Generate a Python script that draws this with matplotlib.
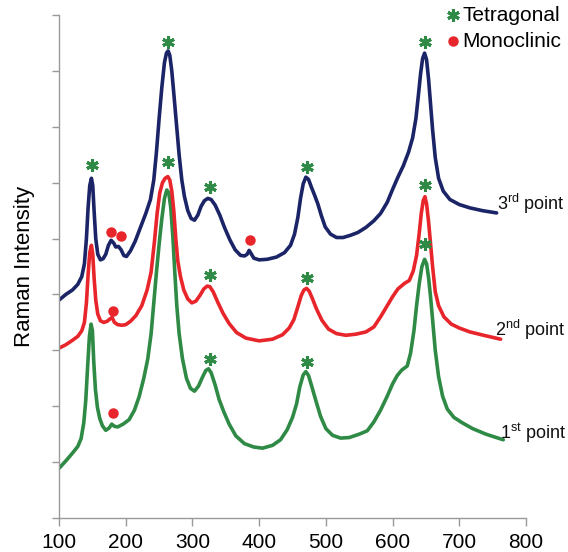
import numpy as np
import matplotlib
matplotlib.use('Agg')
import matplotlib.pyplot as plt

plt.rcParams['font.family'] = ['Liberation Sans', 'DejaVu Sans']
plt.rcParams['mathtext.fontset'] = 'custom'
plt.rcParams['mathtext.rm'] = 'Liberation Sans'

# spectra (vertical offset already included)
x_3rd = [100, 110, 120, 128, 134, 138, 141, 143.5, 146, 148.5, 150.5, 152.5, 155, 158, 162, 166,
         170, 174, 178, 182, 185, 189, 193, 197, 201, 207, 214, 222, 230, 237, 242, 246, 250,
         254, 258, 261, 263.5, 266, 269, 272, 276, 280, 284, 288, 293, 298, 303, 308, 313, 318,
         323, 328, 334, 341, 348, 356, 364, 372, 378, 382, 385, 388, 392, 400, 412, 426, 438,
         447, 453, 458, 462, 466, 470, 474, 478, 483, 488, 493, 499, 507, 516, 526, 537, 548,
         560, 572, 582, 592, 600, 608, 616, 624, 630, 635, 639, 642, 645, 648, 651, 654, 657,
         660, 664, 669, 676, 686, 700, 716, 735, 756]
y_3rd = [3.90, 4.0, 4.08, 4.18, 4.32, 4.55, 5.0, 5.55, 5.95, 6.08, 5.95, 5.5, 5.0, 4.72, 4.62,
         4.64, 4.72, 4.88, 4.97, 4.92, 4.85, 4.86, 4.80, 4.70, 4.68, 4.78, 4.95, 5.2, 5.45, 5.7,
         6.05, 6.55, 7.15, 7.7, 8.15, 8.32, 8.36, 8.28, 8.0, 7.6, 7.05, 6.5, 6.05, 5.75, 5.5,
         5.36, 5.33, 5.42, 5.58, 5.68, 5.72, 5.70, 5.60, 5.42, 5.20, 4.98, 4.80, 4.70, 4.69, 4.72,
         4.79, 4.73, 4.65, 4.62, 4.63, 4.67, 4.75, 4.88, 5.08, 5.38, 5.72, 5.98, 6.10, 6.06, 5.93,
         5.78, 5.62, 5.42, 5.21, 5.08, 5.02, 5.02, 5.06, 5.11, 5.2, 5.32, 5.45, 5.65, 5.88, 6.1,
         6.3, 6.55, 6.8, 7.15, 7.6, 7.95, 8.22, 8.32, 8.2, 7.85, 7.4, 6.95, 6.45, 6.08, 5.85,
         5.70, 5.61, 5.55, 5.50, 5.46]

x_2nd = [100, 110, 120, 128, 134, 138, 141, 143.5, 146, 148.5, 150.5, 152.5, 155, 158, 162, 167,
         172, 176, 179.5, 183, 188, 194, 200, 207, 215, 224, 232, 238, 243, 247, 251, 255, 259,
         263, 266, 269, 272, 275, 278, 282, 287, 293, 299, 305, 311, 317, 322, 326, 331, 338,
         346, 355, 366, 380, 400, 420, 435, 445, 452, 458, 463, 467, 471, 475, 480, 486, 494,
         504, 516, 530, 545, 560, 572, 582, 592, 600, 608, 618, 625, 631, 636, 640, 643, 646,
         648.5, 651, 654, 657, 660, 664, 669, 677, 688, 700, 716, 740, 762]
y_2nd = [3.04, 3.1, 3.18, 3.25, 3.35, 3.5, 3.85, 4.35, 4.75, 4.88, 4.72, 4.3, 3.9, 3.65, 3.53,
         3.50, 3.52, 3.56, 3.59, 3.50, 3.46, 3.45, 3.46, 3.52, 3.62, 3.80, 4.08, 4.4, 4.95, 5.45,
         5.82, 6.0, 6.08, 6.11, 6.05, 5.85, 5.5, 5.0, 4.6, 4.32, 4.08, 3.92, 3.85, 3.88, 3.98,
         4.1, 4.15, 4.14, 4.05, 3.86, 3.66, 3.48, 3.32, 3.22, 3.17, 3.2, 3.28, 3.4, 3.55, 3.78,
         3.98, 4.08, 4.11, 4.06, 3.92, 3.74, 3.54, 3.38, 3.30, 3.27, 3.29, 3.33, 3.42, 3.6, 3.8,
         3.96, 4.1, 4.2, 4.25, 4.42, 4.7, 5.1, 5.45, 5.68, 5.75, 5.62, 5.3, 4.9, 4.5, 4.05, 3.8,
         3.6, 3.47, 3.40, 3.33, 3.26, 3.20]

x_1st = [100, 110, 120, 128, 133, 137, 140, 143, 145.5, 148, 150, 152, 154.5, 157.5, 161, 165,
         170, 175, 179, 183, 188, 196, 205, 213, 220, 227, 233, 238, 242, 246, 250, 254, 258,
         261.5, 264.5, 267.5, 270.5, 273.5, 276.5, 280, 285, 291, 297, 303, 309, 315, 320, 324,
         328, 334, 340, 347, 355, 365, 378, 392, 405, 420, 432, 442, 450, 456, 461, 466, 470,
         474, 479, 485, 492, 500, 510, 522, 535, 550, 562, 572, 582, 592, 600, 607, 614, 622,
         627, 632, 636, 640, 644, 648, 651, 654, 657, 660, 664, 669, 675, 682, 692, 705, 720,
         740, 766]
y_1st = [0.89, 1.02, 1.16, 1.28, 1.42, 1.7, 2.1, 2.75, 3.25, 3.47, 3.35, 2.8, 2.3, 1.98, 1.78,
         1.65, 1.57, 1.61, 1.68, 1.64, 1.63, 1.68, 1.76, 1.93, 2.17, 2.5, 2.85, 3.3, 3.85, 4.4,
         4.9, 5.35, 5.72, 5.87, 5.82, 5.55, 5.05, 4.4, 3.8, 3.3, 2.85, 2.5, 2.32, 2.27, 2.36,
         2.52, 2.64, 2.67, 2.6, 2.38, 2.12, 1.9, 1.68, 1.47, 1.33, 1.27, 1.25, 1.30, 1.40, 1.58,
         1.8, 2.04, 2.35, 2.56, 2.62, 2.55, 2.35, 2.1, 1.82, 1.6, 1.48, 1.43, 1.44, 1.50, 1.56,
         1.72, 1.93, 2.18, 2.4, 2.55, 2.65, 2.72, 2.95, 3.35, 3.8, 4.2, 4.5, 4.63, 4.55, 4.3,
         3.95, 3.55, 3.0, 2.53, 2.18, 1.95, 1.8, 1.7, 1.6, 1.5, 1.40]

# peak markers
tet_x = [149.5, 263.5, 326.5, 472, 649, 263.5, 326.5, 472, 649, 326.5, 472, 649]
tet_y = [6.31, 8.52, 5.93, 6.28, 8.52, 6.37, 4.35, 4.29, 5.96, 2.84, 2.80, 4.90]
mono_x = [178, 193, 386.5, 181, 181]
mono_y = [5.12, 5.04, 4.97, 3.70, 1.88]

series_labels = ['1$^{\\rm st}$ point', '2$^{\\rm nd}$ point', '3$^{\\rm rd}$ point']
label_x = [761, 754, 757]
label_y = [1.52, 3.36, 5.62]

navy = '#1b2466'
red = '#e8252b'
green = '#2e8a45'
star = (6, 2, 0)

fig = plt.figure(figsize=(5.68, 5.52), dpi=100)
ax = fig.add_axes([0.104, 0.0616, 0.822, 0.911])

ax.plot(x_1st, y_1st, color=green, lw=2.6, solid_joinstyle='round', solid_capstyle='round')
ax.plot(x_2nd, y_2nd, color=red, lw=2.6, solid_joinstyle='round', solid_capstyle='round')
ax.plot(x_3rd, y_3rd, color=navy, lw=2.6, solid_joinstyle='round', solid_capstyle='round')

ax.plot(tet_x, tet_y, ls='none', marker=star, ms=9, mew=2.2, color=green)
ax.plot(mono_x, mono_y, ls='none', marker='o', ms=6.5, color=red, mec=red)

for lab, lx, ly in zip(series_labels, label_x, label_y):
    ax.text(lx, ly, lab, fontsize=13, ha='left', va='center', color='#111111', clip_on=False)

# legend drawn by hand in axes coords
ax.plot([0.844], [1.0], transform=ax.transAxes, marker=star, ms=9, mew=2.2, color=green,
        ls='none', clip_on=False)
ax.text(0.863, 1.0, 'Tetragonal', transform=ax.transAxes, fontsize=15, va='center')
ax.plot([0.844], [0.948], transform=ax.transAxes, marker='o', ms=6.5, color=red,
        ls='none', clip_on=False)
ax.text(0.863, 0.948, 'Monoclinic', transform=ax.transAxes, fontsize=15, va='center')

ax.set_xlim(100, 800)
ax.set_ylim(0, 9)
ax.set_xticks(np.arange(100, 801, 100))
ax.set_yticks(np.arange(0, 10, 1))
ax.set_yticklabels([])
ax.tick_params(axis='x', labelsize=15, length=6, color='#999999', width=1, pad=5)
ax.tick_params(axis='y', length=5, color='#999999', width=1)
ax.set_ylabel('Raman Intensity', fontsize=16, labelpad=9)

for s in ['top', 'right']:
    ax.spines[s].set_visible(False)
for s in ['left', 'bottom']:
    ax.spines[s].set_color('#999999')
    ax.spines[s].set_linewidth(1)

fig.savefig('out.png', dpi=100)
